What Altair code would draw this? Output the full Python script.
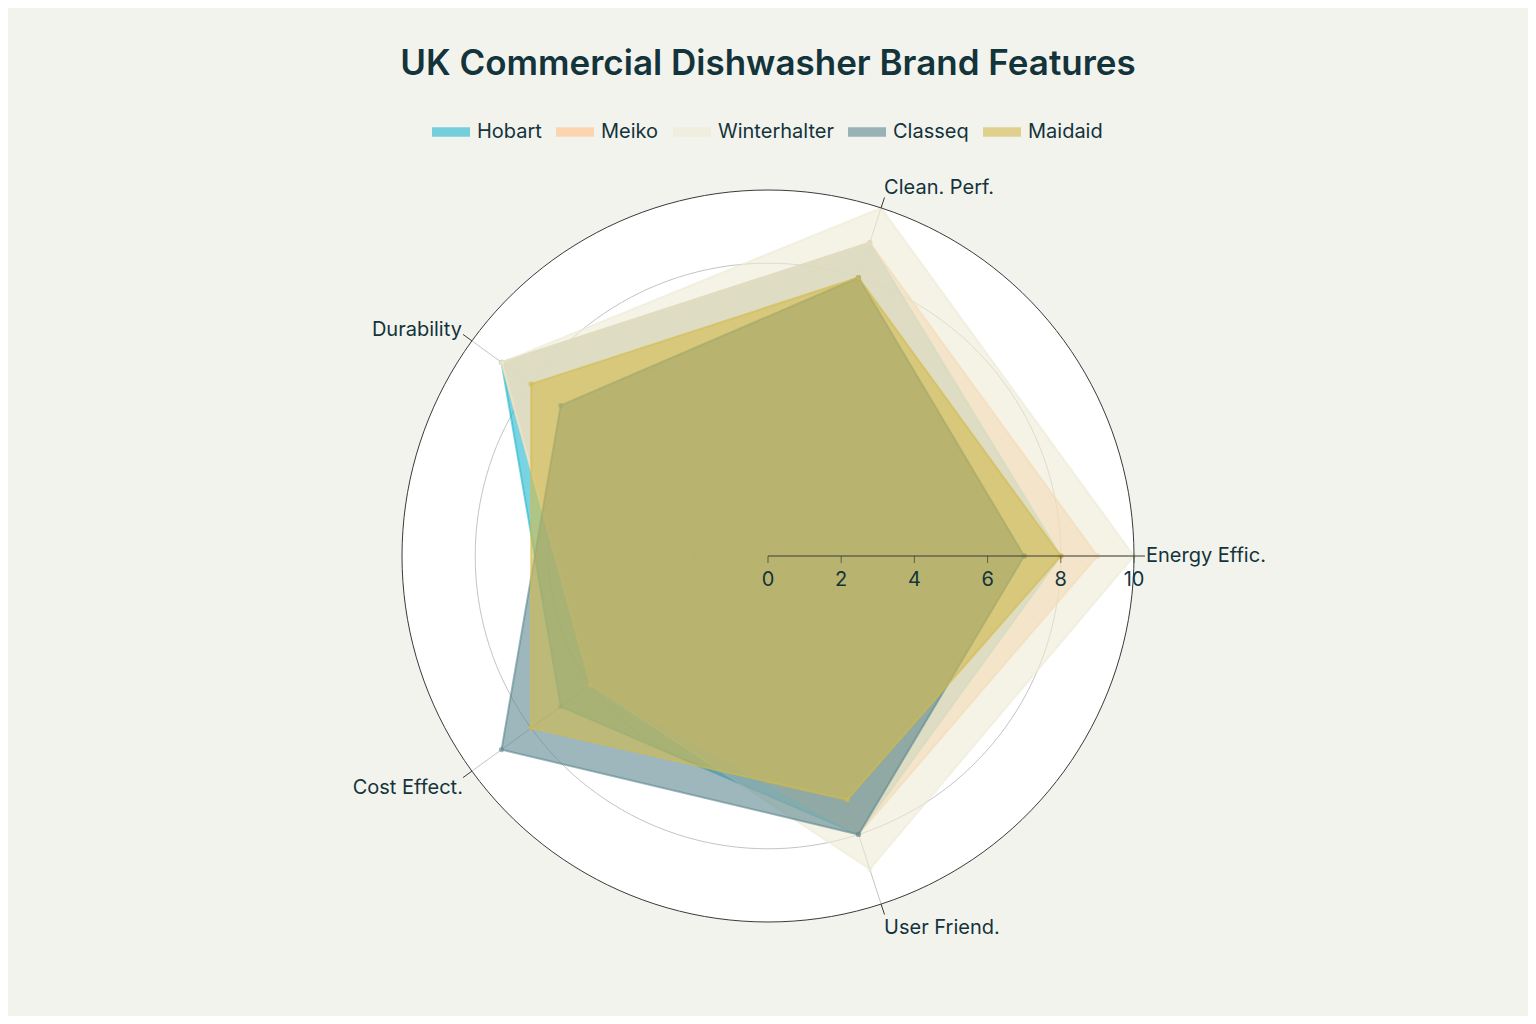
import altair as alt
import pandas as pd
import numpy as np

# ---------------- data ----------------
categories = ["Energy Effic.", "Clean. Perf.", "Durability", "Cost Effect.", "User Friend."]
brands = ["Hobart", "Meiko", "Winterhalter", "Classeq", "Maidaid"]
hobart = [8, 9, 9, 7, 8]
meiko = [9, 9, 9, 6, 8]
winterhalter = [10, 10, 9, 6, 9]
classeq = [7, 8, 7, 9, 8]
maidaid = [8, 8, 8, 8, 7]
radial_ticks = [0, 2, 4, 6, 8, 10]
grid_rings = [2, 4, 6, 8]

# ---------------- style ----------------
colors = ["#1FB8CD", "#FFC185", "#ECEBD5", "#5D878F", "#D2BA4C"]
BG = "#F3F3EE"
TEXT = "#13343B"
FONT = "Inter"
PX_PER_UNIT = 36.6
W, H = 1520, 838
CX, CY = 760, 378  # centre of polar area inside plot
label_style = {
    "Energy Effic.": dict(align="left", dx=12, dy=0),
    "Clean. Perf.": dict(align="left", dx=3, dy=-20),
    "Durability": dict(align="right", dx=-10, dy=-11),
    "Cost Effect.": dict(align="right", dx=-9, dy=17),
    "User Friend.": dict(align="left", dx=3, dy=24),
}

xdom = [-CX / PX_PER_UNIT, (W - CX) / PX_PER_UNIT]
ydom = [-(H - CY) / PX_PER_UNIT, CY / PX_PER_UNIT]
X = lambda f="x": alt.X(f"{f}:Q", scale=alt.Scale(domain=xdom, nice=False, zero=False), axis=None)
Y = lambda f="y": alt.Y(f"{f}:Q", scale=alt.Scale(domain=ydom, nice=False, zero=False), axis=None)

N = len(categories)
series = dict(zip(brands, [hobart, meiko, winterhalter, classeq, maidaid]))
rows = []
for b in brands:
    vals = series[b]
    for i in range(N + 1):
        rows.append({"brand": b, "idx": i % N, "ord": i, "value": vals[i % N]})
poly_df = pd.DataFrame(rows)


def with_polar(ch):
    return (ch.transform_calculate(th=f"datum.idx * 2 * PI / {N}")
              .transform_calculate(x="datum.value * cos(datum.th)", y="datum.value * sin(datum.th)"))


# circle data (rings)
deg = np.arange(0, 361, 2)
ring_df = pd.DataFrame([{"r": r, "deg": d} for r in grid_rings + [10] for d in deg])


def ring_layer(df):
    return (alt.Chart(df)
            .transform_calculate(x="datum.r * cos(datum.deg * PI / 180)",
                                 y="datum.r * sin(datum.deg * PI / 180)"))


disc = ring_layer(ring_df[ring_df.r == 10]).mark_line(fill="white", strokeWidth=0).encode(
    x=X(), y=Y(), order="deg:Q")
rings = ring_layer(ring_df[ring_df.r < 10]).mark_line(color="#C4C4C4", strokeWidth=1).encode(
    x=X(), y=Y(), detail="r:N", order="deg:Q")
outer = ring_layer(ring_df[ring_df.r == 10]).mark_line(color="#3A3A3A", strokeWidth=1).encode(
    x=X(), y=Y(), order="deg:Q")

cat_df = pd.DataFrame({"cat": categories, "idx": list(range(N))})
spokes = (alt.Chart(cat_df)
          .transform_calculate(th=f"datum.idx * 2 * PI / {N}")
          .transform_calculate(x0="0", y0="0", x="10 * cos(datum.th)", y="10 * sin(datum.th)")
          .mark_rule(color="#C4C4C4", strokeWidth=1)
          .encode(x=X("x0"), y=Y("y0"), x2="x:Q", y2="y:Q"))
ang_ticks = (alt.Chart(cat_df)
             .transform_calculate(th=f"datum.idx * 2 * PI / {N}")
             .transform_calculate(x0="10 * cos(datum.th)", y0="10 * sin(datum.th)",
                                  x="10.3 * cos(datum.th)", y="10.3 * sin(datum.th)")
             .mark_rule(color="#3A3A3A", strokeWidth=1)
             .encode(x=X("x0"), y=Y("y0"), x2="x:Q", y2="y:Q"))

ang_labels = []
for c in categories:
    st = label_style[c]
    ang_labels.append(
        alt.Chart(cat_df)
        .transform_filter(alt.datum.cat == c)
        .transform_calculate(th=f"datum.idx * 2 * PI / {N}")
        .transform_calculate(x="10 * cos(datum.th)", y="10 * sin(datum.th)")
        .mark_text(align=st["align"], baseline="middle", dx=st["dx"], dy=st["dy"],
                   font=FONT, fontSize=20, color=TEXT)
        .encode(x=X(), y=Y(), text="cat:N"))

polys = []
for b, col in zip(brands, colors):
    base = with_polar(alt.Chart(poly_df).transform_filter(alt.datum.brand == b))
    polys.append(base.mark_line(fill=col, fillOpacity=0.6, stroke=col, strokeOpacity=0.6,
                                strokeWidth=2, strokeJoin="round")
                 .encode(x=X(), y=Y(), order="ord:Q"))
    polys.append(base.mark_circle(color=col, opacity=0.6, size=28).encode(x=X(), y=Y()))

legend_layer = (alt.Chart(poly_df)
                .transform_filter("false")
                .mark_square(opacity=0.6)
                .encode(color=alt.Color("brand:N",
                                        scale=alt.Scale(domain=brands, range=colors),
                                        legend=alt.Legend(
                                            title=None, orient="none", direction="horizontal",
                                            legendX=424, legendY=-65,
                                            symbolType="M-1,-0.25L1,-0.25L1,0.25L-1,0.25Z",
                                            symbolSize=1444, symbolOpacity=0.6,
                                            symbolStrokeWidth=0,
                                            labelFont=FONT, labelFontSize=20, labelColor=TEXT,
                                            labelOffset=7, columnPadding=14, padding=0))))

tick_df = pd.DataFrame({"t": radial_ticks})
rad_line = (alt.Chart(pd.DataFrame({"a": [0], "b": [10]}))
            .transform_calculate(z="0")
            .mark_rule(color="#3A3A3A", strokeWidth=1)
            .encode(x=X("a"), x2="b:Q", y=Y("z")))
rad_ticks = (alt.Chart(tick_df).transform_calculate(z="0")
             .mark_tick(orient="vertical", size=7, thickness=1, color="#3A3A3A", yOffset=3.5)
             .encode(x=X("t"), y=Y("z")))
rad_labels = (alt.Chart(tick_df).transform_calculate(z="0")
              .mark_text(dy=24, font=FONT, fontSize=20, color=TEXT)
              .encode(x=X("t"), y=Y("z"), text="t:Q"))

chart = alt.layer(
    disc, rings, spokes, *polys, outer, ang_ticks, rad_line, rad_ticks, rad_labels,
    *ang_labels, legend_layer
).properties(
    width=W, height=H,
    autosize=alt.AutoSizeParams(type="none"),
    padding={"left": 0, "right": 0, "top": 170, "bottom": 0},
    background=BG,
    title=alt.TitleParams("UK Commercial Dishwasher Brand Features", anchor="middle",
                          font=FONT, fontSize=35, fontWeight=600, color=TEXT, offset=31),
).configure_view(stroke=None)

chart.save("out.html", embed_options={"renderer": "svg", "actions": False})
